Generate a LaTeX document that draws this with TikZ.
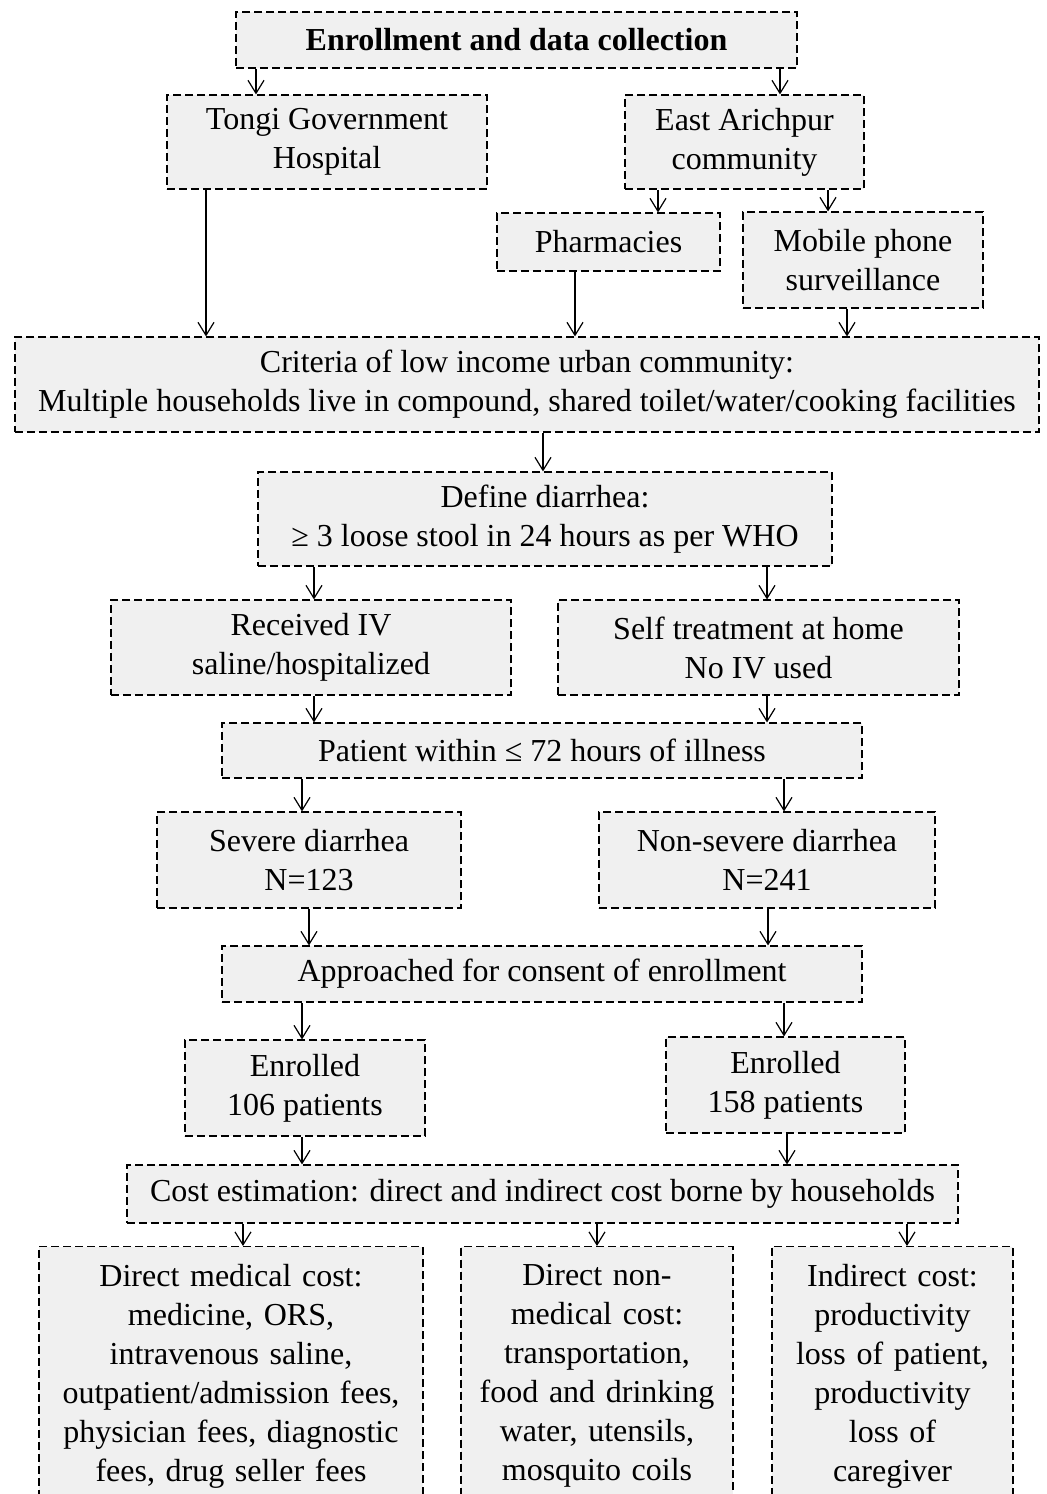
\documentclass[tikz,border=0pt]{standalone}
\usepackage{fontspec}
\setmainfont{Liberation Serif}
\usepackage{tikz}
\usetikzlibrary{arrows.meta}
\definecolor{boxgray}{RGB}{240,240,240}

\begin{document}
\begin{tikzpicture}[x=0.5pt,y=-0.5pt,
    box/.style={draw,dash pattern=on 4pt off 2pt,line width=0.55pt,fill=boxgray,
      align=center,inner sep=0pt,font=\fontsize{16}{19.5}\selectfont},
    arr/.style={-{Straight Barb[length=6.5pt,width=8pt]},line width=0.6pt}]
        \useasboundingbox (0,0) rectangle (1046,1494);
        \clip (0,0) rectangle (1046,1494);
        % boxes, placed at their centres
        \node[box,minimum width=280.5pt,minimum height=28pt] (title) at (516.5,40) {\textbf{Enrollment and data collection}};
        \node[box,minimum width=160pt,minimum height=47pt] (tongi) at (327,142) {Tongi Government\\Hospital};
        \node[box,minimum width=119.5pt,minimum height=47pt] (east) at (744.5,142) {East Arichpur\\community};
        \node[box,minimum width=111.5pt,minimum height=29pt] (pharm) at (608.5,242) {Pharmacies};
        \node[box,minimum width=120pt,minimum height=48pt] (mobile) at (863,260) {Mobile phone\\surveillance};
        \node[box,minimum width=512pt,minimum height=47.5pt] (criteria) at (527,384.5) {Criteria of low income urban community:\\Multiple households live in compound, shared toilet/water/cooking facilities};
        \node[box,minimum width=287pt,minimum height=47pt] (define) at (545,519) {Define diarrhea:\\≥ 3 loose stool in 24 hours as per WHO};
        \node[box,minimum width=200pt,minimum height=47.5pt] (received) at (311,647.5) {Received IV\\saline/hospitalized};
        \node[box,minimum width=200.5pt,minimum height=47.5pt] (self) at (758.5,647.5) {Self treatment at home\\No IV used};
        \node[box,minimum width=320pt,minimum height=27.5pt] (patient) at (542,750.5) {Patient within ≤ 72 hours of illness};
        \node[box,minimum width=152pt,minimum height=48pt] (severe) at (309,860) {Severe diarrhea\\N=123};
        \node[box,minimum width=168pt,minimum height=48pt] (nonsevere) at (767,860) {Non-severe diarrhea\\N=241};
        \node[box,minimum width=320pt,minimum height=28pt] (approach) at (542,974) {Approached for consent of enrollment};
        \node[box,minimum width=120pt,minimum height=48pt] (enrA) at (305,1088) {Enrolled\\106 patients};
        \node[box,minimum width=119.5pt,minimum height=48pt] (enrB) at (785.5,1085) {Enrolled\\158 patients};
        \node[box,minimum width=415.5pt,minimum height=29pt] (cost) at (542.5,1194) {Cost estimation: direct and indirect cost borne by households};
        % cost boxes run off the bottom edge
        \node[box,anchor=north,text width=192pt,inner ysep=9pt] (medical) at (231,1246)
          {Direct medical cost:\\medicine, ORS,\\intravenous saline,\\outpatient/admission fees,\\physician fees, diagnostic\\fees, drug seller fees\\ };
        \node[box,anchor=north,text width=136pt,inner ysep=9pt] (nonmedical) at (597,1246)
          {Direct non-\\medical cost:\\transportation,\\food and drinking\\water, utensils,\\mosquito coils\\ };
        \node[box,anchor=north,text width=120.5pt,inner ysep=9pt] (indirect) at (892.5,1246)
          {Indirect cost:\\productivity\\loss of patient,\\productivity\\loss of\\caregiver\\ };
        % connectors
        \draw[arr] (title.south -| 256,0) -- (tongi.north -| 256,0);
        \draw[arr] (title.south -| 780,0) -- (east.north -| 780,0);
        \draw[arr] (tongi.south -| 206,0) -- (criteria.north -| 206,0);
        \draw[arr] (east.south -| 658,0) -- (pharm.north -| 658,0);
        \draw[arr] (east.south -| 828,0) -- (mobile.north -| 828,0);
        \draw[arr] (pharm.south -| 575,0) -- (criteria.north -| 575,0);
        \draw[arr] (mobile.south -| 847,0) -- (criteria.north -| 847,0);
        \draw[arr] (criteria.south -| 543,0) -- (define.north -| 543,0);
        \draw[arr] (define.south -| 314,0) -- (received.north -| 314,0);
        \draw[arr] (define.south -| 767,0) -- (self.north -| 767,0);
        \draw[arr] (received.south -| 314,0) -- (patient.north -| 314,0);
        \draw[arr] (self.south -| 767,0) -- (patient.north -| 767,0);
        \draw[arr] (patient.south -| 302,0) -- (severe.north -| 302,0);
        \draw[arr] (patient.south -| 784,0) -- (nonsevere.north -| 784,0);
        \draw[arr] (severe.south -| 309,0) -- (approach.north -| 309,0);
        \draw[arr] (nonsevere.south -| 768,0) -- (approach.north -| 768,0);
        \draw[arr] (approach.south -| 302,0) -- (enrA.north -| 302,0);
        \draw[arr] (approach.south -| 784,0) -- (enrB.north -| 784,0);
        \draw[arr] (enrA.south -| 302,0) -- (cost.north -| 302,0);
        \draw[arr] (enrB.south -| 787,0) -- (cost.north -| 787,0);
        \draw[arr] (cost.south -| 243,0) -- (medical.north -| 243,0);
        \draw[arr] (cost.south -| 597,0) -- (nonmedical.north -| 597,0);
        \draw[arr] (cost.south -| 907,0) -- (indirect.north -| 907,0);
\end{tikzpicture}
\end{document}
